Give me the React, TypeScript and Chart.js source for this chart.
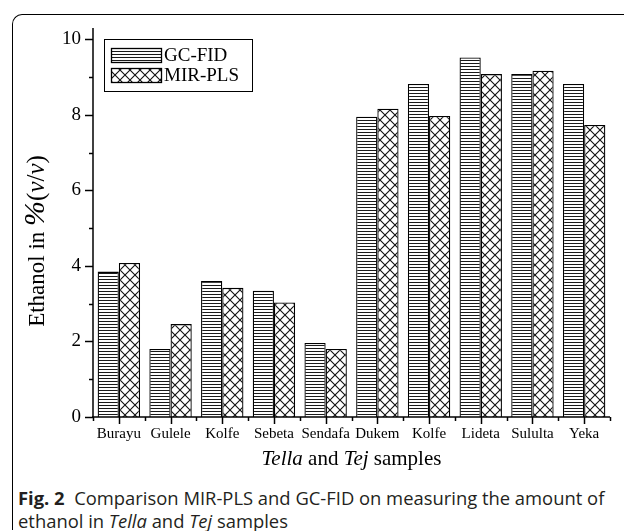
import React, { useEffect, useRef } from "react";
import { Chart, registerables } from "chart.js";

Chart.register(...registerables);

const categories = ["Burayu", "Gulele", "Kolfe", "Sebeta", "Sendafa", "Dukem", "Kolfe", "Lideta", "Sululta", "Yeka"];
const gcFid = [3.85, 1.8, 3.6, 3.34, 1.96, 7.95, 8.82, 9.52, 9.08, 8.82];
const mirPls = [4.08, 2.46, 3.42, 3.03, 1.8, 8.16, 7.97, 9.08, 9.17, 7.73];
const yMajorTicks = [0, 2, 4, 6, 8, 10];
const yMinorTicks = [1, 3, 5, 7, 9];
const seriesNames = ["GC-FID", "MIR-PLS"];

const SERIF = '"Liberation Serif", "Times New Roman", serif';

function makeLinesPattern(): CanvasPattern | string {
  const c = document.createElement("canvas");
  c.width = 6;
  c.height = 3;
  const x = c.getContext("2d");
  if (!x) return "#fff";
  x.fillStyle = "#fff";
  x.fillRect(0, 0, 6, 3);
  x.fillStyle = "#1a1a1a";
  x.fillRect(0, 0, 6, 1);
  return x.createPattern(c, "repeat") as CanvasPattern;
}

function makeCrossPattern(): CanvasPattern | string {
  const c = document.createElement("canvas");
  c.width = 10;
  c.height = 10;
  const x = c.getContext("2d");
  if (!x) return "#fff";
  x.fillStyle = "#fff";
  x.fillRect(0, 0, 10, 10);
  x.strokeStyle = "#111";
  x.lineWidth = 1.1;
  x.beginPath();
  x.moveTo(-1, -1);
  x.lineTo(11, 11);
  x.moveTo(11, -1);
  x.lineTo(-1, 11);
  x.stroke();
  return x.createPattern(c, "repeat") as CanvasPattern;
}

type Seg = [string, boolean, number];

function drawSegments(ctx: CanvasRenderingContext2D, segs: Seg[], cx: number, cy: number) {
  let total = 0;
  for (const [t, it, sz] of segs) {
    ctx.font = `${it ? "italic " : ""}${sz}px ${SERIF}`;
    total += ctx.measureText(t).width;
  }
  let x = cx - total / 2;
  ctx.textAlign = "left";
  ctx.textBaseline = "alphabetic";
  for (const [t, it, sz] of segs) {
    ctx.font = `${it ? "italic " : ""}${sz}px ${SERIF}`;
    ctx.fillText(t, x, cy);
    x += ctx.measureText(t).width;
  }
}

export default function App() {
  const ref = useRef<HTMLCanvasElement>(null);

  useEffect(() => {
    if (!ref.current) return;
    const linesPat = makeLinesPattern();
    const crossPat = makeCrossPattern();

    const axesPlugin = {
      id: "originAxes",
      afterDraw(chart: any) {
        const ctx: CanvasRenderingContext2D = chart.ctx;
        const xs = chart.scales.x;
        const ys = chart.scales.y;
        const area = chart.chartArea;
        const y0 = ys.getPixelForValue(0);
        ctx.save();
        ctx.strokeStyle = "#000";
        ctx.fillStyle = "#000";
        ctx.lineWidth = 1.5;
        // y axis
        ctx.beginPath();
        ctx.moveTo(area.left, area.top);
        ctx.lineTo(area.left, y0);
        ctx.stroke();
        for (const v of yMajorTicks) {
          const p = Math.round(ys.getPixelForValue(v)) + 0.5;
          ctx.beginPath();
          ctx.moveTo(area.left - 8, p);
          ctx.lineTo(area.left, p);
          ctx.stroke();
        }
        for (const v of yMinorTicks) {
          const p = Math.round(ys.getPixelForValue(v)) + 0.5;
          ctx.beginPath();
          ctx.moveTo(area.left - 4, p);
          ctx.lineTo(area.left, p);
          ctx.stroke();
        }
        ctx.font = `19px ${SERIF}`;
        ctx.textAlign = "right";
        ctx.textBaseline = "middle";
        for (const v of yMajorTicks) {
          ctx.fillText(String(v), area.left - 12, ys.getPixelForValue(v));
        }
        // x axis
        ctx.beginPath();
        ctx.moveTo(area.left - 1, y0);
        ctx.lineTo(area.right, y0);
        ctx.stroke();
        const n = categories.length;
        const w = (area.right - area.left) / n;
        for (let i = 0; i <= n; i++) {
          const p = Math.round(area.left + i * w) + 0.5;
          ctx.beginPath();
          ctx.moveTo(p, y0);
          ctx.lineTo(p, y0 + 4);
          ctx.stroke();
        }
        ctx.font = `15px ${SERIF}`;
        ctx.textAlign = "center";
        ctx.textBaseline = "top";
        categories.forEach((c, i) => {
          const p = Math.round(xs.getPixelForValue(i)) + 0.5;
          ctx.beginPath();
          ctx.moveTo(p, y0);
          ctx.lineTo(p, y0 + 7);
          ctx.stroke();
          ctx.fillText(c, xs.getPixelForValue(i), y0 + 10);
        });
        // titles
        drawSegments(
          ctx,
          [["Tella", true, 21], [" and ", false, 21], ["Tej", true, 21], [" samples", false, 21]],
          (area.left + area.right) / 2,
          y0 + 48
        );
        ctx.save();
        ctx.translate(44, 241);
        ctx.rotate(-Math.PI / 2);
        drawSegments(
          ctx,
          [["Ethanol in ", false, 23], ["%", true, 30], ["(", false, 25], ["v", true, 25], ["/", false, 25], ["v", true, 25], [")", false, 25]],
          0,
          0
        );
        ctx.restore();
        // legend
        ctx.lineWidth = 1;
        ctx.strokeRect(104.5, 39.5, 148, 52);
        const pats = [linesPat, crossPat];
        ctx.font = `19px ${SERIF}`;
        ctx.textAlign = "left";
        ctx.textBaseline = "middle";
        seriesNames.forEach((s, i) => {
          const ty = 48 + i * 20;
          ctx.fillStyle = pats[i] as any;
          ctx.fillRect(111, ty, 50, 14);
          ctx.lineWidth = 1.3;
          ctx.strokeRect(111.5, ty + 0.5, 50, 14);
          ctx.fillStyle = "#000";
          ctx.fillText(s, 164, ty + 8);
        });
        ctx.restore();
      },
    };

    const chart = new Chart(ref.current, {
      type: "bar",
      data: {
        labels: categories,
        datasets: [
          { label: seriesNames[0], data: gcFid, backgroundColor: linesPat as any, borderColor: "#000", borderWidth: 1.3 },
          { label: seriesNames[1], data: mirPls, backgroundColor: crossPat as any, borderColor: "#000", borderWidth: 1.3 },
        ],
      },
      options: {
        animation: false,
        responsive: false,
        devicePixelRatio: 1,
        layout: { padding: { left: 93, top: 28, right: 14, bottom: 53 } },
        datasets: { bar: { categoryPercentage: 0.82, barPercentage: 1 } },
        plugins: { legend: { display: false }, tooltip: { enabled: false } },
        scales: {
          x: { display: false, offset: true },
          y: { display: false, min: 0, max: 10.3 },
        },
      },
      plugins: [axesPlugin],
    });
    return () => chart.destroy();
  }, []);

  return (
    <div style={{ position: "absolute", left: 0, top: 0, width: 624, height: 531, background: "#fff", overflow: "hidden" }}>
      <div
        style={{
          position: "absolute",
          left: 12,
          top: 14,
          width: 640,
          height: 515,
          borderLeft: "1.5px solid #000",
          borderTop: "1.5px solid #000",
          borderTopLeftRadius: 10,
        }}
      />
      <canvas ref={ref} width={624} height={470} style={{ position: "absolute", left: 0, top: 0 }} />
      <div
        style={{
          position: "absolute",
          left: 18,
          top: 486,
          width: 606,
          fontFamily: '"Open Sans", sans-serif',
          fontSize: 18.4,
          lineHeight: "23px",
          color: "#231f20",
          whiteSpace: "nowrap",
        }}
      >
        <div>
          <b>Fig. 2</b>&nbsp; Comparison MIR-PLS and GC-FID on measuring the amount of
        </div>
        <div>
          ethanol in <i>Tella</i> and <i>Tej</i> samples
        </div>
      </div>
    </div>
  );
}
